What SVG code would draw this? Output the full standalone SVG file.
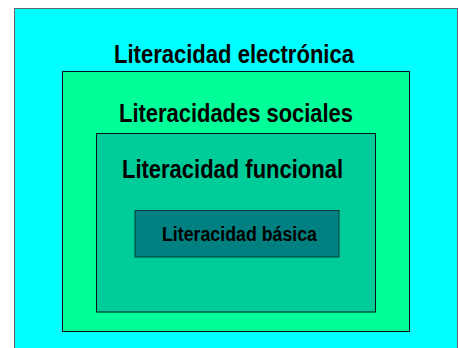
<svg xmlns="http://www.w3.org/2000/svg" width="458" height="348" viewBox="0 0 458 348">
<style>
.t{font-family:"Liberation Sans",Arial,sans-serif;font-weight:bold;fill:#000}
.big{font-size:26px}
.small{font-size:20px}
</style>
<rect width="458" height="348" fill="#fff"/>
<g id="electronica">
<rect x="14.5" y="8.5" width="443" height="350" fill="#00FFFF" stroke="#666" stroke-width="1"/>
<text class="t big" x="114" y="63" textLength="240" lengthAdjust="spacingAndGlyphs">Literacidad electrónica</text>
</g>
<g id="sociales">
<rect x="62.5" y="71.5" width="347" height="260" fill="#00FF99" stroke="#111" stroke-width="1"/>
<text class="t big" x="119" y="121.5" textLength="234" lengthAdjust="spacingAndGlyphs">Literacidades sociales</text>
</g>
<g id="funcional">
<rect x="96.5" y="133.5" width="279" height="178.5" fill="#00CC99" stroke="#111" stroke-width="1"/>
<text class="t big" x="122" y="177.5" textLength="221" lengthAdjust="spacingAndGlyphs">Literacidad funcional</text>
</g>
<g id="basica">
<rect x="135" y="210.5" width="204" height="46.5" fill="#008080" stroke="#0a3a3a" stroke-width="1"/>
<text class="t small" x="162" y="241" textLength="155" lengthAdjust="spacingAndGlyphs">Literacidad básica</text>
</g>
<g id="connectors"/>
</svg>
